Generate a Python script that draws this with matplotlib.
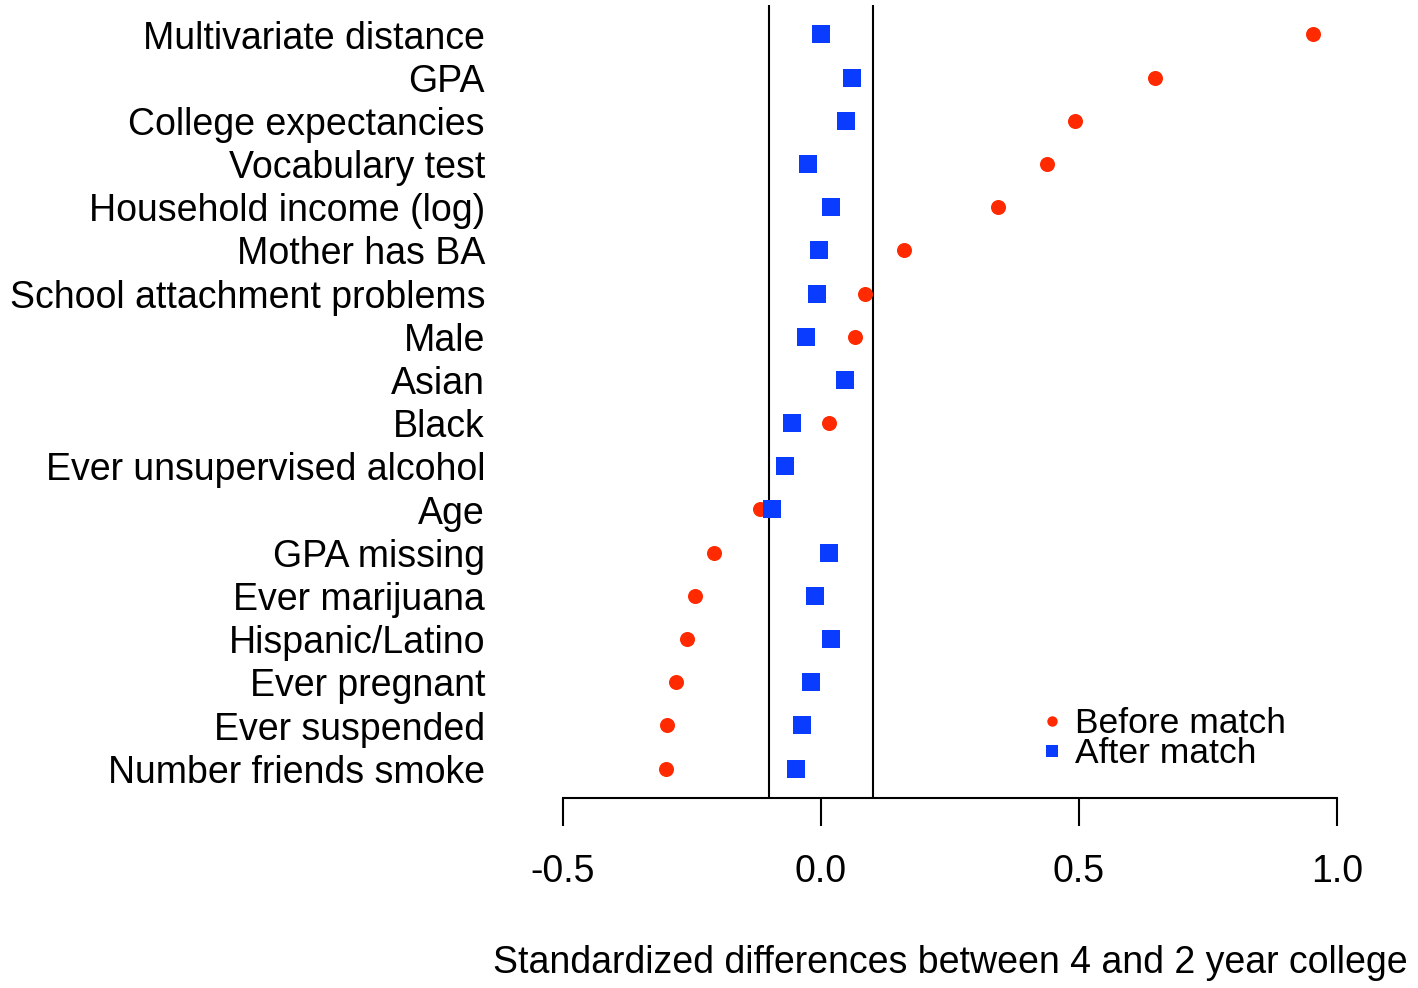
import numpy as np
import matplotlib.pyplot as plt
from matplotlib.lines import Line2D
from matplotlib.transforms import offset_copy

plt.rcParams['font.family'] = ['Liberation Sans', 'DejaVu Sans']

# covariates, top to bottom
labels = ['Multivariate distance', 'GPA', 'College expectancies', 'Vocabulary test',
          'Household income (log)', 'Mother has BA', 'School attachment problems',
          'Male', 'Asian', 'Black', 'Ever unsupervised alcohol', 'Age', 'GPA missing',
          'Ever marijuana', 'Hispanic/Latino', 'Ever pregnant', 'Ever suspended',
          'Number friends smoke']

# standardized differences before matching
before = [0.953, 0.647, 0.492, 0.438, 0.343, 0.161, 0.085, 0.066, 0.047, 0.016,
          -0.070, -0.118, -0.207, -0.244, -0.260, -0.281, -0.298, -0.300]

# standardized differences after matching
after = [0.000, 0.060, 0.048, -0.025, 0.019, -0.004, -0.008, -0.029, 0.047, -0.056,
         -0.070, -0.095, 0.016, -0.012, 0.019, -0.019, -0.037, -0.048]

xticks = [-0.5, 0.0, 0.5, 1.0]
xticklabels = ['-0.5', '0.0', '0.5', '1.0']

red = '#ff2a00'
blue = '#0a3cff'
fs = 27

fig = plt.figure(figsize=(14.18, 9.88), dpi=100)
ax = fig.add_axes([532 / 1418, 1 - 798 / 988, (1368 - 532) / 1418, (798 - 5) / 988])

n = len(labels)
y = np.arange(n, 0, -1)

ax.axvline(-0.1, color='black', linewidth=1.5, zorder=1)
ax.axvline(0.1, color='black', linewidth=1.5, zorder=1)

ax.scatter(before, y, s=117, marker='o', color=red, linewidths=0, zorder=3)
ax.scatter(after, y, s=150, marker='s', color=blue, linewidths=0, zorder=4)

ax.set_xlim(-0.56, 1.06)
ax.set_ylim(0.32, n + 0.68)

for s in ['top', 'right', 'left']:
    ax.spines[s].set_visible(False)
ax.spines['bottom'].set_bounds(-0.5, 1.0)
ax.spines['bottom'].set_linewidth(1.5)

ax.set_xticks(xticks)
ax.set_xticklabels(xticklabels, fontsize=fs)
ax.tick_params(axis='x', length=20, width=1.5, pad=20)

# row labels on the left margin
ax.set_yticks([])
trans = offset_copy(ax.get_yaxis_transform(), fig=fig, x=0, y=-3, units='points')
for yy, lab in zip(y, labels):
    ax.text((485 - 532) / 836, yy, lab, transform=trans, ha='right',
            va='center', fontsize=fs, clip_on=False)

ax.set_xlabel('Standardized differences between 4 and 2 year college', fontsize=fs, labelpad=40)

handles = [Line2D([], [], linestyle='none', marker='o', markersize=7.5, color=red, markeredgewidth=0),
           Line2D([], [], linestyle='none', marker='s', markersize=8, color=blue, markeredgewidth=0)]
ax.legend(handles, ['Before match', 'After match'], loc='lower right',
          bbox_to_anchor=(0.9186, 0.017), frameon=False, fontsize=25.5,
          handlelength=0.8, handletextpad=0.25, labelspacing=-0.08, borderaxespad=0)

fig.savefig('out.png', dpi=100)
